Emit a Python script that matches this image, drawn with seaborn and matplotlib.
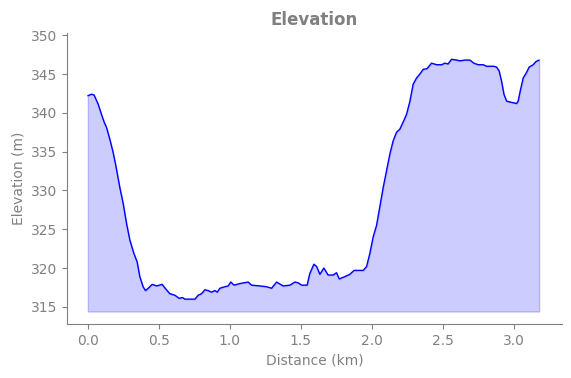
import numpy as np
import pandas as pd
import matplotlib
matplotlib.use("Agg")
import matplotlib.pyplot as plt
import seaborn as sns

# elevation profile
distance_km = [
    0.00, 0.026, 0.044, 0.073, 0.096, 0.115, 0.132, 0.155, 0.178, 0.197,
    0.225, 0.249, 0.273, 0.296, 0.324, 0.347, 0.366, 0.389, 0.406, 0.425,
    0.453, 0.484, 0.523, 0.549, 0.577, 0.613, 0.643, 0.667, 0.683, 0.754,
    0.777, 0.801, 0.824, 0.847, 0.871, 0.894, 0.911, 0.930, 0.965, 0.988,
    1.007, 1.030, 1.070, 1.129, 1.153, 1.211, 1.258, 1.294, 1.329, 1.375,
    1.423, 1.458, 1.481, 1.505, 1.544, 1.563, 1.592, 1.611, 1.634, 1.662,
    1.692, 1.727, 1.751, 1.770, 1.810, 1.845, 1.875, 1.915, 1.939, 1.963,
    1.986, 2.009, 2.033, 2.056, 2.080, 2.104, 2.127, 2.150, 2.174, 2.197,
    2.220, 2.244, 2.268, 2.291, 2.315, 2.338, 2.361, 2.389, 2.420, 2.456,
    2.491, 2.514, 2.537, 2.561, 2.596, 2.620, 2.655, 2.690, 2.718, 2.749,
    2.784, 2.808, 2.831, 2.859, 2.878, 2.896, 2.913, 2.930, 2.949, 2.972,
    3.019, 3.030, 3.047, 3.066, 3.089, 3.108, 3.136, 3.155, 3.178,
]
elevation_m = [
    342.2, 342.4, 342.3, 341.1, 339.8, 338.8, 338.1, 336.6, 334.9, 333.2,
    330.4, 328.3, 325.7, 323.6, 321.9, 320.8, 318.9, 317.6, 317.1, 317.4,
    317.9, 317.7, 317.9, 317.3, 316.7, 316.5, 316.1, 316.2, 316.0, 316.0,
    316.5, 316.7, 317.2, 317.1, 316.9, 317.1, 316.9, 317.4, 317.6, 317.7,
    318.2, 317.8, 318.0, 318.2, 317.8, 317.7, 317.6, 317.4, 318.2, 317.7,
    317.8, 318.2, 318.1, 317.8, 317.8, 319.3, 320.5, 320.2, 319.2, 320.0,
    319.1, 319.1, 319.4, 318.6, 318.9, 319.2, 319.7, 319.7, 319.7, 320.2,
    321.9, 324.0, 325.5, 327.9, 330.4, 332.6, 334.7, 336.4, 337.5, 337.9,
    338.8, 339.8, 341.5, 343.7, 344.5, 345.0, 345.6, 345.7, 346.4, 346.2,
    346.2, 346.4, 346.3, 346.9, 346.8, 346.7, 346.8, 346.8, 346.4, 346.2,
    346.2, 346.0, 346.0, 346.0, 345.9, 345.4, 344.1, 342.4, 341.5, 341.4,
    341.2, 341.5, 343.0, 344.5, 345.2, 345.9, 346.2, 346.6, 346.8,
]
fill_base = 314.4

df = pd.DataFrame({"Distance (km)": distance_km, "Elevation (m)": elevation_m})

sns.set_style("ticks")
plt.rcParams["font.family"] = ["DejaVu Sans"]
grey = "gray"

fig = plt.figure(figsize=(5.71, 3.78), dpi=100)
ax = fig.add_axes([0.117, 0.143, 0.867, 0.770])

sns.lineplot(data=df, x="Distance (km)", y="Elevation (m)", color="blue",
             linewidth=1, ax=ax)
ax.fill_between(df["Distance (km)"], df["Elevation (m)"], fill_base,
                color="blue", alpha=0.2)

ax.set_xlim(-0.148, 3.338)
ax.set_ylim(312.8, 350.3)
ax.set_xticks([0.0, 0.5, 1.0, 1.5, 2.0, 2.5, 3.0])
ax.set_title("Elevation", color=grey, fontweight="bold", fontsize=12)
ax.set_xlabel("Distance (km)", color=grey)
ax.set_ylabel("Elevation (m)", color=grey)
ax.tick_params(colors=grey)
for s in ["left", "bottom"]:
    ax.spines[s].set_color(grey)
sns.despine(ax=ax)

fig.savefig("out.png", dpi=100)
